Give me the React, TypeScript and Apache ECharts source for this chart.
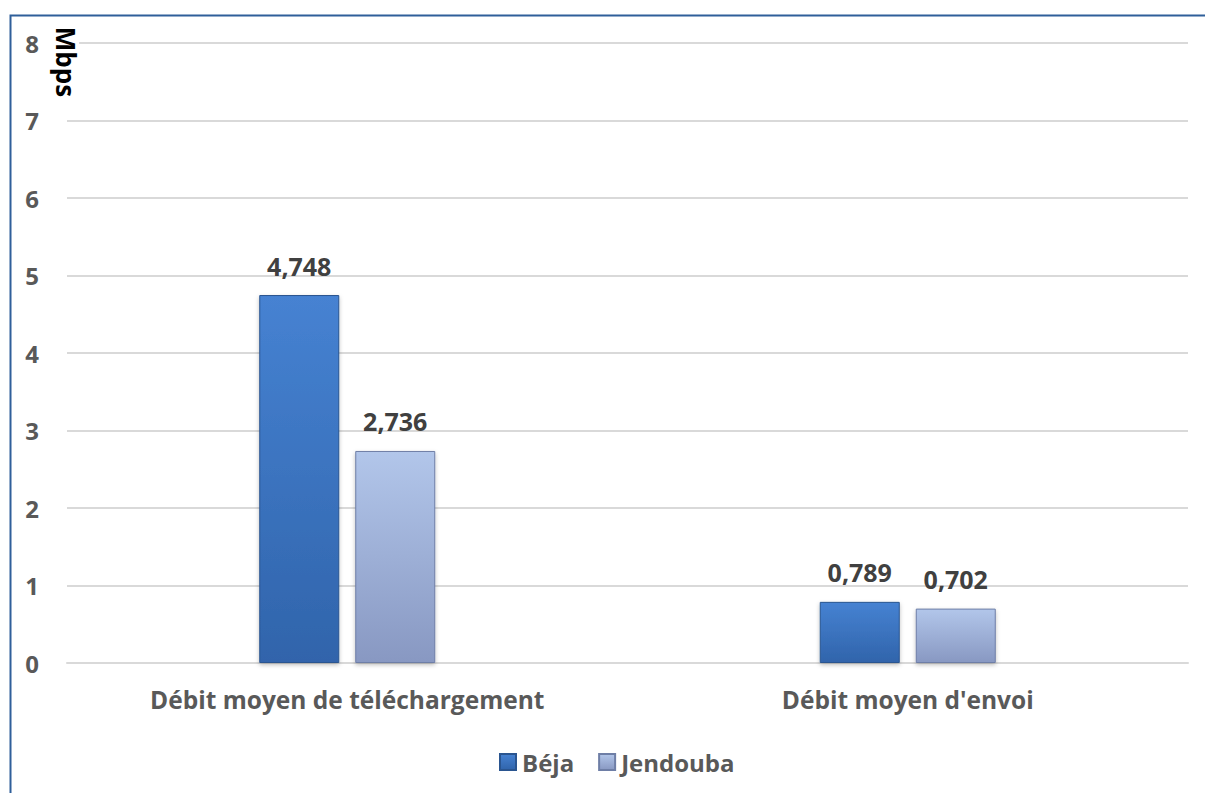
import React, { useEffect, useRef } from "react";
import * as echarts from "echarts";

const categories = ["Débit moyen de téléchargement", "Débit moyen d'envoi"];
const bejaValues = [4.748, 0.789];
const jendoubaValues = [2.736, 0.702];
const seriesNames = ["Béja", "Jendouba"];
const yTicks = [0, 1, 2, 3, 4, 5, 6, 7, 8];
const unitLabel = "Mbps";

const FONT = "'Open Sans', sans-serif";

export default function App() {
  const ref = useRef<HTMLDivElement>(null);
  useEffect(() => {
    document.body.style.margin = "0";
    const chart = echarts.init(ref.current!, null, { renderer: "svg" });
    const bejaColor = new echarts.graphic.LinearGradient(0, 0, 0, 1, [
      { offset: 0, color: "#4682d2" },
      { offset: 1, color: "#3064ab" },
    ]);
    const jendColor = new echarts.graphic.LinearGradient(0, 0, 0, 1, [
      { offset: 0, color: "#b2c6ea" },
      { offset: 1, color: "#8898c2" },
    ]);
    const labelCfg = {
      show: true,
      position: "top" as const,
      distance: 17,
      fontFamily: FONT,
      fontWeight: "bold" as const,
      fontSize: 25,
      color: "#404040",
      formatter: (p: any) => p.value.toFixed(3).replace(".", ","),
    };
    chart.setOption({
      animation: false,
      backgroundColor: "#ffffff",
      grid: { left: 67, right: 17, top: 43, bottom: 130 },
      legend: {
        top: 745,
        left: 494,
        itemWidth: 16,
        itemHeight: 16,
        itemGap: 24,
        icon: "rect",
        textStyle: {
          fontFamily: FONT,
          fontWeight: "bold",
          fontSize: 24,
          color: "#595959",
          padding: [0, 0, 0, 1],
        },
        data: seriesNames,
      },
      xAxis: {
        type: "category",
        data: categories,
        axisLine: { show: true, lineStyle: { color: "#d9d9d9", width: 2 } },
        axisTick: { show: false },
        axisLabel: {
          margin: 24,
          fontFamily: FONT,
          fontWeight: "bold",
          fontSize: 24.5,
          color: "#595959",
        },
      },
      yAxis: {
        type: "value",
        min: yTicks[0],
        max: yTicks[yTicks.length - 1],
        interval: 1,
        axisLine: { show: false },
        axisTick: { show: false },
        splitLine: { lineStyle: { color: "#d9d9d9", width: 2 } },
        axisLabel: {
          margin: 28,
          fontFamily: FONT,
          fontWeight: "bold",
          fontSize: 24,
          color: "#595959",
        },
      },
      graphic: [
        {
          type: "rect",
          left: 8,
          top: 13,
          shape: { width: 1300, height: 900 },
          style: { fill: "none", stroke: "#2f5f9a", lineWidth: 2 },
          silent: true,
          z: 100,
        },
        {
          type: "text",
          x: 66,
          y: 62,
          rotation: -Math.PI / 2,
          style: {
            text: unitLabel,
            fontFamily: FONT,
            fontWeight: "bold",
            fontSize: 26,
            fill: "#000000",
            align: "center",
            verticalAlign: "middle",
            backgroundColor: "#ffffff",
            padding: [0, 2],
          },
          z: 50,
        },
      ],
      series: [
        {
          name: seriesNames[0],
          type: "bar",
          data: bejaValues,
          barWidth: 80,
          barGap: "20%",
          itemStyle: {
            color: bejaColor,
            borderColor: "#2a5590",
            borderWidth: 1,
            shadowColor: "rgba(0,0,0,0.25)",
            shadowBlur: 4,
            shadowOffsetY: 2,
          },
          label: labelCfg,
        },
        {
          name: seriesNames[1],
          type: "bar",
          data: jendoubaValues,
          barWidth: 80,
          itemStyle: {
            color: jendColor,
            borderColor: "#6e7ea6",
            borderWidth: 1,
            shadowColor: "rgba(0,0,0,0.25)",
            shadowBlur: 4,
            shadowOffsetY: 2,
          },
          label: labelCfg,
        },
      ],
    });
    return () => chart.dispose();
  }, []);
  return <div ref={ref} style={{ width: 1205, height: 793 }} />;
}
